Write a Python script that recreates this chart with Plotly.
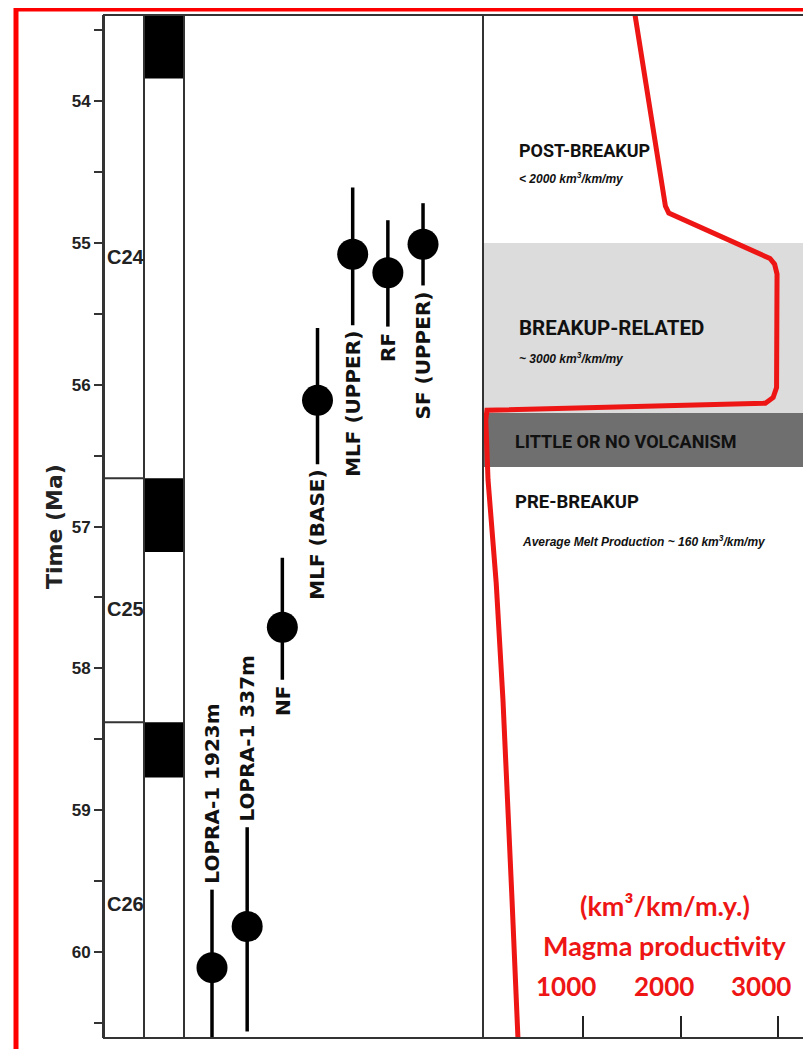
import plotly.graph_objects as go

# ---------------- data ----------------
age_ticks = [54, 55, 56, 57, 58, 59, 60]
age_tick_labels = ["54", "55", "56", "57", "58", "59", "60"]

chron_names = ["C24", "C25", "C26"]
chron_label_age = [55.10, 57.58, 59.66]
chron_boundaries = [56.66, 58.38]
normal_start = [53.39, 56.66, 58.38]
normal_end = [53.84, 57.18, 58.77]

sample_names = ["LOPRA-1 1923m", "LOPRA-1 337m", "NF", "MLF (BASE)", "MLF (UPPER)", "RF", "SF (UPPER)"]
sample_age = [60.11, 59.82, 57.71, 56.11, 55.08, 55.21, 55.01]
sample_young = [59.56, 59.12, 57.22, 55.60, 54.61, 54.84, 54.72]
sample_old = [60.66, 60.56, 58.08, 56.56, 55.58, 55.59, 55.30]
label_side = ["above", "above", "below", "below", "below", "below", "below"]

band_start = [55.00, 56.20]
band_end = [56.20, 56.58]
band_colors = ["#dcdcdc", "#6f6f6f"]

magma_age = [53.39, 54.74, 54.79, 55.11, 55.15, 55.22, 56.02, 56.09, 56.13, 56.18,
             56.25, 56.67, 57.40, 58.22, 59.63, 60.34, 60.61]
magma_rate = [1533, 1845, 1880, 2918, 2965, 2990, 2985, 2950, 2870, 15,
              3, 26, 110, 179, 272, 313, 333]
magma_ticks = [1000, 2000, 3000]
magma_tick_labels = ["1000", "2000", "3000"]

phase_titles = ["POST-BREAKUP", "BREAKUP-RELATED", "LITTLE OR NO VOLCANISM", "PRE-BREAKUP"]
phase_title_age = [54.35, 55.60, 56.40, 56.83]
phase_notes = ["< 2000 km<sup>3</sup>/km/my", "~ 3000 km<sup>3</sup>/km/my",
               "Average Melt Production ~ 160 km<sup>3</sup>/km/my"]
phase_note_age = [54.54, 55.81, 57.10]

# ---------------- layout constants ----------------
# the page body adds an 8 px offset; the figure is sized to fill the remaining window
OFF = 8
W, H = 811 - OFF, 1049 - OFF


def px(sx):
    return (sx - OFF) / W


FRAME = "#333333"
RED = "#ee1515"
TITLE_FONT = "Roboto, Liberation Sans, sans-serif"

fig = go.Figure()

# invisible trace so the polarity subplot exists
fig.add_trace(go.Scatter(x=[None], y=[None], xaxis="x", yaxis="y",
                         showlegend=False, hoverinfo="skip"))

# samples with age uncertainty
fig.add_trace(go.Scatter(
    x=list(range(len(sample_names))), y=sample_age, xaxis="x2", yaxis="y",
    mode="markers", showlegend=False,
    marker=dict(size=31, color="black"),
    error_y=dict(type="data", symmetric=False,
                 array=[o - a for o, a in zip(sample_old, sample_age)],
                 arrayminus=[a - y for a, y in zip(sample_age, sample_young)],
                 width=0, thickness=3.5, color="black"),
))

# magma productivity curve
fig.add_trace(go.Scatter(
    x=magma_rate, y=magma_age, xaxis="x3", yaxis="y", mode="lines",
    line=dict(color=RED, width=5), showlegend=False,
))

shapes = []
for s, e, c in zip(band_start, band_end, band_colors):
    shapes.append(dict(type="rect", xref="x3 domain", yref="y", x0=0, x1=1, y0=s, y1=e,
                       fillcolor=c, line=dict(width=0), layer="below"))
for s, e in zip(normal_start, normal_end):
    shapes.append(dict(type="rect", xref="x", yref="y", x0=1, x1=2, y0=s, y1=e,
                       fillcolor="black", line=dict(width=0), layer="above"))
for b in chron_boundaries:
    shapes.append(dict(type="line", xref="x", yref="y", x0=0, x1=1, y0=b, y1=b,
                       line=dict(color=FRAME, width=2)))
shapes.append(dict(type="line", xref="x", yref="y domain", x0=1, x1=1, y0=0, y1=1,
                   line=dict(color=FRAME, width=2)))
for ax in ["x", "x2", "x3"]:
    shapes.append(dict(type="rect", xref=ax + " domain", yref="y domain", x0=0, x1=1, y0=0, y1=1,
                       line=dict(color=FRAME, width=2), fillcolor="rgba(0,0,0,0)", layer="above"))
# red outer border
shapes.append(dict(type="rect", xref="paper", yref="paper",
                   x0=px(16), x1=1.03, y0=-0.03, y1=1 + 6 / 1023,
                   line=dict(color="#ff0000", width=5), fillcolor="rgba(0,0,0,0)", layer="above"))

ann = []
ann.append(dict(text="<b>Time (Ma)</b>", xref="paper", yref="y domain", x=px(40), y=0.5,
                textangle=-90, showarrow=False,
                font=dict(family="DejaVu Sans", size=22, color="#222")))
for n, a in zip(chron_names, chron_label_age):
    ann.append(dict(text="<b>" + n + "</b>", xref="x", yref="y", x=0.03, y=a, xanchor="left",
                    showarrow=False, font=dict(family="Liberation Sans", size=20, color="#222")))
for i, (n, side) in enumerate(zip(sample_names, label_side)):
    if side == "below":
        yv, ya, ys = sample_old[i], "top", -4
    else:
        yv, ya, ys = sample_young[i], "bottom", 4
    ann.append(dict(text="<b>" + n + "</b>", xref="x2", yref="y", x=i, y=yv,
                    xanchor="center", yanchor=ya, yshift=ys, textangle=-90, showarrow=False,
                    font=dict(family="DejaVu Sans", size=20, color="#111")))
title_x = [0.104, 0.104, 0.092, 0.092]
title_size = [18, 20.5, 18, 18.5]
for t, a, xx, sz in zip(phase_titles, phase_title_age, title_x, title_size):
    ann.append(dict(text="<b>" + t + "</b>", xref="x3 domain", yref="y", x=xx, y=a,
                    xanchor="left", showarrow=False,
                    font=dict(family=TITLE_FONT, size=sz, color="#111")))
note_x = [0.104, 0.104, 0.113]
for t, a, xx in zip(phase_notes, phase_note_age, note_x):
    ann.append(dict(text="<b><i>" + t + "</i></b>", xref="x3 domain", yref="y", x=xx, y=a,
                    xanchor="left", showarrow=False,
                    font=dict(family="Liberation Sans", size=12, color="#111")))
for v, lab in zip(magma_ticks, magma_tick_labels):
    ann.append(dict(text="<b>" + lab + "</b>", xref="x3", yref="y domain", x=v, y=0,
                    yanchor="middle", yshift=52, xshift=-17, showarrow=False,
                    font=dict(family="Lato", size=26, color=RED)))
ann.append(dict(text="<b>Magma productivity</b>", xref="x3 domain", yref="y domain",
                x=0.557, y=0, yanchor="middle", yshift=93, showarrow=False,
                font=dict(family="Lato", size=27, color=RED)))
ann.append(dict(text="<b>(km³/km/m.y.)</b>", xref="x3 domain", yref="y domain",
                x=0.557, y=0, yanchor="middle", yshift=133, showarrow=False,
                font=dict(family="Lato", size=27, color=RED)))

fig.update_layout(
    width=W, height=H,
    margin=dict(l=0, r=0, t=15 - OFF, b=H - (1038 - OFF)),
    paper_bgcolor="white", plot_bgcolor="white",
    showlegend=False,
    xaxis=dict(domain=[px(104), px(184)], range=[0, 2], visible=False, anchor="y"),
    xaxis2=dict(domain=[px(184), px(483)], range=[-0.796, 7.705], visible=False, anchor="y"),
    xaxis3=dict(domain=[px(483), px(810)], range=[-25.6, 3328], anchor="y",
                showticklabels=False, ticks="inside", ticklen=22, tickwidth=2,
                tickcolor="#222", tickmode="array", tickvals=magma_ticks,
                showgrid=False, zeroline=False, showline=False),
    yaxis=dict(domain=[0, 1], range=[60.606, 53.393], anchor="x",
               tickmode="array", tickvals=age_ticks,
               ticktext=["<b>" + t + "</b>" for t in age_tick_labels],
               ticks="outside", ticklen=8, tickwidth=2, tickcolor=FRAME,
               minor=dict(tickmode="linear", tick0=53.5, dtick=0.5, ticks="outside",
                          ticklen=8, tickwidth=2, tickcolor=FRAME),
               showline=True, linecolor=FRAME, linewidth=2,
               showgrid=False, zeroline=False,
               tickfont=dict(family="Liberation Sans", size=17, color="#222")),
    shapes=shapes,
    annotations=ann,
)

fig.write_html("out.html")
